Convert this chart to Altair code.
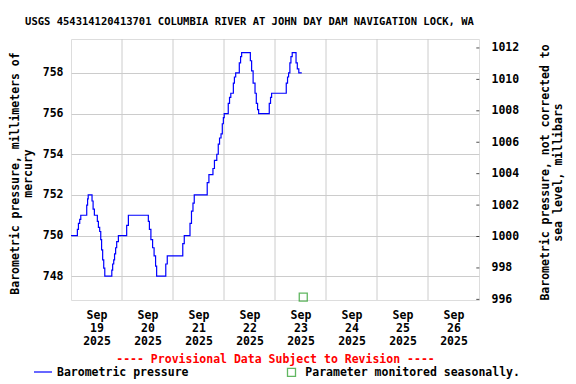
import altair as alt
import pandas as pd

# ---- data (hours after 2025-09-19 00:00, barometric pressure in mm Hg) ----
hours = [0, 3.0, 3.5, 4.1, 4.6, 7.4, 7.8, 8.1, 9.9, 10.4, 11.0, 12.4, 12.9, 13.5,
         14.0, 14.4, 14.9, 15.4, 15.9, 19.2, 19.6, 20.1, 20.5, 21.0, 21.5, 22.3,
         26.2, 27.0, 36.4, 36.9, 37.6, 38.4, 39.1, 39.8, 40.3, 44.6, 45.3, 52.6,
         53.3, 56.0, 56.7, 57.4, 58.0, 64.1, 64.9, 66.8, 67.5, 68.6, 69.3, 69.9,
         70.6, 71.2, 71.7, 72.1, 74.0, 74.6, 75.2, 76.4, 76.9, 77.5, 79.2, 79.8,
         80.3, 84.4, 85.0, 85.7, 86.6, 87.2, 87.8, 88.3, 93.3, 93.9, 94.4, 101.3,
         101.9, 102.4, 103.0, 103.5, 104.1, 105.9, 106.5, 107.2, 108.6]
pressure_mm = [750, 750.3, 750.6, 750.8, 751, 751.5, 751.8, 752, 751.7, 751.3, 751,
               750.7, 750.4, 750.2, 749.8, 749.3, 748.8, 748.4, 748, 748.3, 748.6,
               748.8, 749.1, 749.4, 749.7, 750, 750.5, 751, 750.7, 750.3, 749.8,
               749.4, 749, 748.5, 748, 748.6, 749, 749.6, 750, 750.6, 751.2, 751.6,
               752, 752.6, 753, 753.3, 753.7, 754, 754.5, 754.8, 755, 755.5, 755.8,
               756, 756.5, 756.8, 757, 757.5, 757.8, 758, 758.5, 758.8, 759, 758.6,
               758.1, 757.5, 757, 756.5, 756.2, 756, 756.5, 756.8, 757, 757.5, 757.8,
               758, 758.5, 758.8, 759, 758.5, 758.2, 758, 758]

day_edges = [24, 48, 72, 96, 120, 144, 168]
tick_hours = [12, 36, 60, 84, 108, 132, 156, 180]
tick_month = ["Sep"] * 8
tick_day = ["19", "20", "21", "22", "23", "24", "25", "26"]
tick_year = ["2025"] * 8

mm_ticks = [748, 750, 752, 754, 756, 758]
mb_ticks = [996, 998, 1000, 1002, 1004, 1006, 1008, 1010, 1012]

seasonal_hour = [109.3]
seasonal_mm = [746.97]

legend_labels = ["Barometric pressure", "Parameter monitored seasonally."]

FONT = "DejaVu Sans Mono"
BLUE = "#0000ff"
GREEN = "#1f9a1f"
GRID = "#cccccc"

label_arrays = ",".join(
    "['%s','%s','%s']" % (m, d, y) for m, d, y in zip(tick_month, tick_day, tick_year)
)
label_expr = "[" + label_arrays + "][floor(datum.value / 24)]"

x_scale = alt.Scale(domain=[0, 192], nice=False, zero=False)
x_axis = alt.Axis(
    values=tick_hours, labelExpr=label_expr, grid=False, ticks=False, domain=False,
    labelFont=FONT, labelFontSize=11.5, labelFontWeight="bold", labelColor="black",
    labelLineHeight=13, labelBaseline="top", labelPadding=9, labelFlush=False,
    title="---- Provisional Data Subject to Revision ----",
    titleFont=FONT, titleFontSize=11.5, titleFontWeight="bold", titleColor="#ff0000",
    titleBaseline="middle", titleY=59,
)

y_scale = alt.Scale(domain=[746.83, 759.67], nice=False, zero=False)
y_axis = alt.Axis(
    values=mm_ticks, grid=True, gridColor=GRID, gridWidth=1, ticks=False, domain=False,
    labelFont=FONT, labelFontSize=11.5, labelFontWeight="bold", labelColor="black",
    labelPadding=8,
    title=["Barometric pressure, millimeters of",
           "\u00a0" * 7 + "mercury"],
    titleFont=FONT, titleFontSize=11.5, titleFontWeight="bold", titleColor="black",
    titleAngle=270, titleBaseline="top", titleAlign="center", titleLineHeight=13,
    titleX=-61.7, titleY=134,
)

right_axis = alt.Axis(
    orient="right", values=mb_ticks, format="d", grid=False, ticks=False, domain=False,
    labelFont=FONT, labelFontSize=11.5, labelFontWeight="bold", labelColor="black",
    labelPadding=12,
    title=["Barometric pressure, not corrected to", "sea level, millibars"],
    titleFont=FONT, titleFontSize=11.5, titleFontWeight="bold", titleColor="black",
    titleAngle=270, titleBaseline="top", titleAlign="center", titleLineHeight=13,
    titleX=60, titleY=133,
)

df = pd.DataFrame({"h": hours, "mm": pressure_mm})

grid_rules = alt.Chart(pd.DataFrame({"h": day_edges})).mark_rule(
    color=GRID, strokeWidth=1
).encode(x=alt.X("h:Q", scale=x_scale, axis=x_axis))

line = alt.Chart(df).mark_line(
    interpolate="step-after", color=BLUE, strokeWidth=1.2
).encode(
    x=alt.X("h:Q", scale=x_scale, axis=x_axis),
    y=alt.Y("mm:Q", scale=y_scale, axis=y_axis),
)

seasonal = alt.Chart(pd.DataFrame({"h": seasonal_hour, "mm": seasonal_mm})).mark_square(
    filled=False, color=GREEN, size=64, strokeWidth=1.3
).encode(
    x=alt.X("h:Q", scale=x_scale, axis=x_axis),
    y=alt.Y("mm:Q", scale=y_scale, axis=y_axis),
)

one = pd.DataFrame({"k": [0]})
leg_line = alt.Chart(one).mark_rule(color=BLUE, strokeWidth=1.2).encode(
    x=alt.value(-37), x2=alt.value(-19), y=alt.value(333)
)
leg_text1 = alt.Chart(pd.DataFrame({"t": [legend_labels[0]]})).mark_text(
    font=FONT, fontSize=11.5, fontWeight="bold", color="black", align="left", baseline="middle"
).encode(x=alt.value(-14), y=alt.value(334), text="t:N")
leg_square = alt.Chart(one).mark_square(filled=False, color=GREEN, size=64, strokeWidth=1.3).encode(
    x=alt.value(220.5), y=alt.value(333.3)
)
leg_text2 = alt.Chart(pd.DataFrame({"t": [legend_labels[1]]})).mark_text(
    font=FONT, fontSize=11.5, fontWeight="bold", color="black", align="left", baseline="middle"
).encode(x=alt.value(234.3), y=alt.value(334), text="t:N")

left = alt.layer(grid_rules, line, seasonal, leg_line, leg_text1, leg_square, leg_text2)

right = alt.Chart(pd.DataFrame({"mb": mb_ticks})).mark_tick(
    color="black", thickness=1, size=3
).encode(
    x=alt.value(406.8),
    y=alt.Y("mb:Q", scale=alt.Scale(domain=[995.96, 1012.57], nice=False, zero=False),
            axis=right_axis),
)

chart = alt.layer(left, right).resolve_scale(y="independent").properties(
    width=408,
    height=261,
    autosize=alt.AutoSizeParams(type="none"),
    padding={"left": 63, "top": 31, "right": 89, "bottom": 84},
    title=alt.TitleParams(
        "USGS 454314120413701 COLUMBIA RIVER AT JOHN DAY DAM NAVIGATION LOCK, WA",
        font=FONT, fontSize=10.5, fontWeight="bold", color="black",
        anchor="middle", dx=-25.5, offset=1, baseline="bottom",
    ),
).configure_view(stroke="black", strokeWidth=1).configure(background="white")

chart.save("out.html", embed_options={"renderer": "svg", "actions": False})
